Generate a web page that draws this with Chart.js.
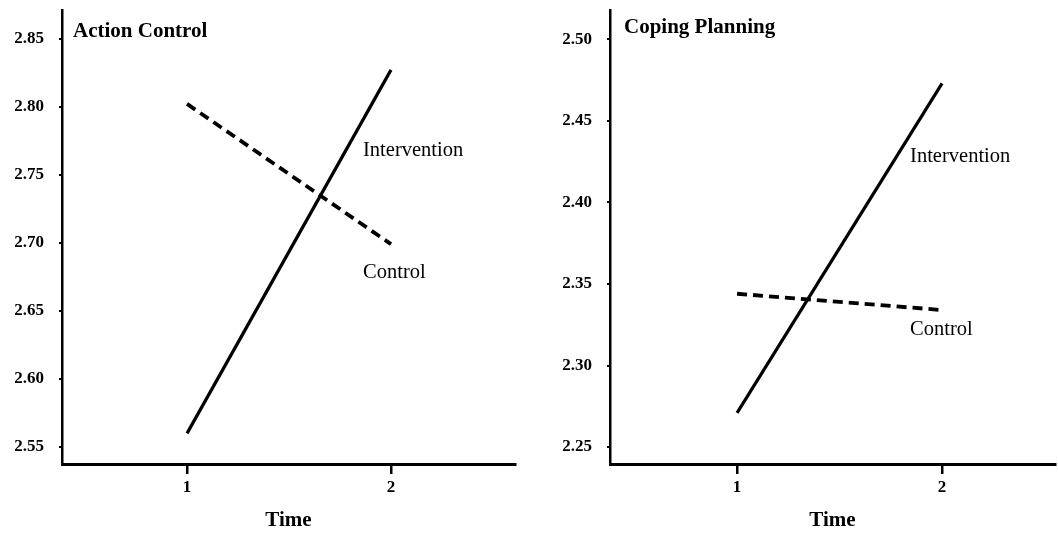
<!DOCTYPE html>
<html>
<head>
<meta charset="utf-8">
<script src="https://cdn.jsdelivr.net/npm/chart.js@4.4.1/dist/chart.umd.min.js"></script>
<style>
html,body{margin:0;padding:0;background:#fff;}
#wrap{position:relative;width:1058px;height:535px;overflow:hidden;background:#fff;}
.pane{position:absolute;top:0;width:529px;height:535px;}
</style>
</head>
<body>
<div id="wrap">
  <div class="pane" style="left:0"><canvas id="c1" width="529" height="535"></canvas></div>
  <div class="pane" style="left:529px"><canvas id="c2" width="529" height="535"></canvas></div>
</div>
<script>
// ---- data ----
const timePoints = [1, 2];
const xTicks = [1, 2];

const actionTitle = "Action Control";
const actionIntervention = [2.560, 2.827];
const actionControl = [2.802, 2.699];
const actionYTicks = [2.55, 2.60, 2.65, 2.70, 2.75, 2.80, 2.85];

const copingTitle = "Coping Planning";
const copingIntervention = [2.271, 2.473];
const copingControl = [2.344, 2.334];
const copingYTicks = [2.25, 2.30, 2.35, 2.40, 2.45, 2.50];

const seriesNames = ["Intervention", "Control"];
const xAxisTitle = "Time";

const FONT = "'Liberation Serif', 'Times New Roman', serif";

const textPlugin = {
  id: 'panelText',
  afterDraw(chart, args, opts) {
    const ctx = chart.ctx;
    const xs = chart.scales.x, ys = chart.scales.y;
    ctx.save();
    ctx.fillStyle = '#000';
    ctx.textBaseline = 'alphabetic';
    ctx.textAlign = 'left';
    ctx.font = 'bold 21px ' + FONT;
    ctx.fillText(opts.title, opts.titleX, opts.titleY);
    ctx.font = '20.5px ' + FONT;
    opts.labels.forEach(l => {
      ctx.fillText(l.text, xs.getPixelForValue(l.x), ys.getPixelForValue(l.y));
    });
    ctx.restore();
  }
};

function makeChart(id, cfg) {
  const pts = arr => timePoints.map((t, i) => ({x: t, y: arr[i]}));
  return new Chart(document.getElementById(id), {
    type: 'line',
    data: {
      datasets: [
        {label: seriesNames[0], data: pts(cfg.intervention), borderColor: '#000', borderWidth: 3.2,
         pointRadius: 0, fill: false, tension: 0},
        {label: seriesNames[1], data: pts(cfg.control), borderColor: '#000', borderWidth: 3.8,
         borderDash: [10, 6], pointRadius: 0, fill: false, tension: 0}
      ]
    },
    options: {
      responsive: false,
      animation: false,
      devicePixelRatio: 1,
      layout: {padding: {top: 10, right: cfg.padRight, left: 0, bottom: 0}},
      plugins: {
        legend: {display: false},
        tooltip: {enabled: false},
        panelText: {title: cfg.title, titleX: cfg.titleX, titleY: cfg.titleY, labels: cfg.labels}
      },
      scales: {
        x: {
          type: 'linear',
          min: cfg.xMin, max: cfg.xMax,
          afterBuildTicks: s => { s.ticks = xTicks.map(v => ({value: v})); },
          afterFit: s => { s.height = 71; s.paddingLeft = 0; s.paddingRight = 0; },
          border: {display: true, color: '#000', width: 3},
          grid: {drawOnChartArea: false, drawTicks: true, tickLength: 10, color: '#000', lineWidth: 2.5},
          ticks: {color: '#000', font: {family: FONT, size: 17, weight: 'bold'}, padding: 3,
                  callback: v => String(v)},
          title: {display: true, text: xAxisTitle, color: '#000',
                  font: {family: FONT, size: 21, weight: 'bold'}, padding: {top: 0, bottom: 2}}
        },
        y: {
          type: 'linear',
          min: cfg.yMin, max: cfg.yMax,
          afterBuildTicks: s => { s.ticks = cfg.yTicks.map(v => ({value: v})); },
          afterFit: s => { s.width = cfg.yWidth; s.paddingTop = 0; s.paddingBottom = 0; },
          border: {display: true, color: '#000', width: 2.5},
          grid: {drawOnChartArea: false, drawTicks: true, tickLength: 3, color: '#000', lineWidth: 2},
          ticks: {color: '#000', font: {family: FONT, size: 17, weight: 'bold'}, padding: 15,
                  callback: v => v.toFixed(2)}
        }
      }
    },
    plugins: [textPlugin]
  });
}

makeChart('c1', {
  title: actionTitle, titleX: 73, titleY: 37,
  intervention: actionIntervention, control: actionControl,
  yTicks: actionYTicks, yMin: 2.5375, yMax: 2.871,
  xMin: 0.387, xMax: 2.608, yWidth: 62, padRight: 14,
  labels: [
    {text: seriesNames[0], x: 1.863, y: 2.764},
    {text: seriesNames[1], x: 1.863, y: 2.674}
  ]
});

makeChart('c2', {
  title: copingTitle, titleX: 95, titleY: 33,
  intervention: copingIntervention, control: copingControl,
  yTicks: copingYTicks, yMin: 2.2396, yMax: 2.518,
  xMin: 0.380, xMax: 2.551, yWidth: 81, padRight: 3,
  labels: [
    {text: seriesNames[0], x: 1.844, y: 2.425},
    {text: seriesNames[1], x: 1.844, y: 2.319}
  ]
});
</script>
</body>
</html>
